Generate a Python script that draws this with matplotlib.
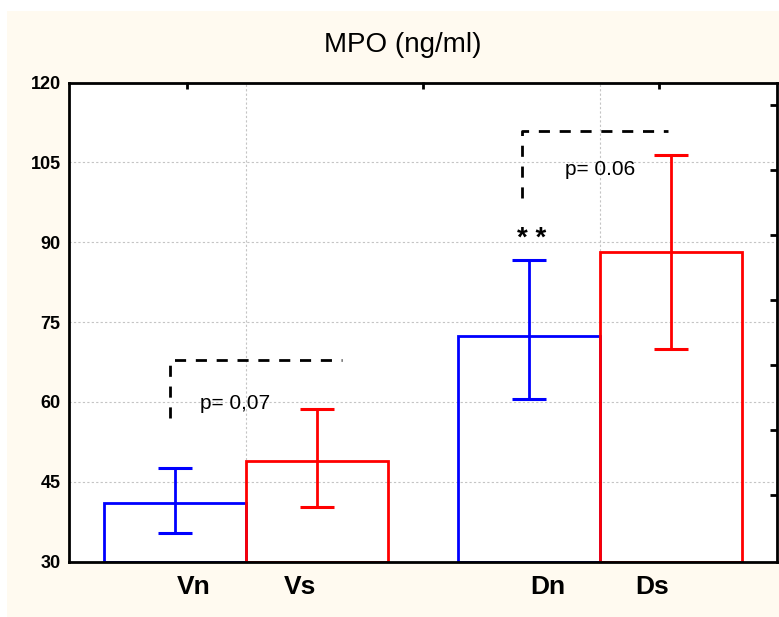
import matplotlib.pyplot as plt
from matplotlib.patches import Rectangle

plt.rcParams['font.family'] = ['Liberation Sans', 'DejaVu Sans']

# data
groups = ["Vn", "Vs", "Dn", "Ds"]
means = [41.1, 48.9, 72.4, 88.2]
err_low = [35.4, 40.3, 60.5, 70.0]
err_high = [47.6, 58.6, 86.6, 106.3]
colors = ["blue", "red", "blue", "red"]
xpos = [0.75, 1.75, 3.25, 4.25]
label_x = [0.88, 1.63, 3.38, 4.12]
p_texts = ["p= 0,07", "p= 0.06"]

fig = plt.figure(figsize=(7.79, 6.17), dpi=100, facecolor="white")
fig.patches.append(Rectangle((7 / 779, 0), 1, (617 - 11) / 617,
                             transform=fig.transFigure, facecolor="#fffaf0",
                             edgecolor="none", zorder=-10))

ax = fig.add_axes([69 / 779, (617 - 561.7) / 617, (777 - 69) / 779, (561.7 - 82.5) / 617])
ax.set_facecolor("white")

base = 30
for i in range(len(groups)):
    ax.bar(xpos[i], means[i] - base, bottom=base, width=1.0, facecolor="none",
           edgecolor=colors[i], linewidth=2, zorder=3)
    ax.errorbar(xpos[i], means[i],
                yerr=[[means[i] - err_low[i]], [err_high[i] - means[i]]],
                color=colors[i], elinewidth=2, capsize=12.5, capthick=2.2, zorder=4)

ax.set_xlim(0, 5)
ax.set_ylim(30, 120)
ax.set_yticks([30, 45, 60, 75, 90, 105, 120])
ax.set_yticklabels(["30", "45", "60", "75", "90", "105", "120"], fontsize=13, fontweight="bold")
ax.tick_params(axis="y", length=0, pad=6)
ax.set_xticks([1.25, 3.75])
ax.set_xticklabels([])
ax.tick_params(axis="x", length=0)
ax.grid(True, color="#c4c4c4", linestyle=(0, (2, 2)), linewidth=0.8, zorder=0)
ax.set_axisbelow(True)
for s in ax.spines.values():
    s.set_linewidth(2)
    s.set_zorder(5)

for i in range(len(groups)):
    ax.text(label_x[i], 25.3, groups[i], fontsize=19, fontweight="bold",
            ha="center", va="center", clip_on=False)

# top and right inner ticks
top = ax.secondary_xaxis("top")
top.set_ticks([5 / 6, 2.5, 25 / 6])
top.set_xticklabels([])
top.tick_params(direction="in", length=5, width=2)
top.spines["top"].set_visible(False)
right = ax.secondary_yaxis("right")
right.set_ticks([42.6, 54.8, 67.0, 79.2, 91.4, 103.6, 115.8])
right.set_yticklabels([])
right.tick_params(direction="in", length=5, width=2)
right.spines["right"].set_visible(False)

# significance brackets
dash = (0, (4, 3.5))
ax.plot([0.713, 0.713, 1.93], [57.0, 67.9, 67.9], color="black", linewidth=2,
        linestyle=dash, zorder=6)
ax.plot([3.20, 3.20, 4.23], [98.3, 110.8, 110.8], color="black", linewidth=2,
        linestyle=dash, zorder=6)
ax.text(0.925, 59.8, p_texts[0], fontsize=15, ha="left", va="center")
ax.text(3.50, 103.7, p_texts[1], fontsize=15, ha="left", va="center")
ax.text(3.27, 90.6, "* *", fontsize=20, fontweight="bold", ha="center", va="center")

fig.text(403 / 779, 1 - 45 / 617, "MPO (ng/ml)", fontsize=20, ha="center", va="center")

fig.savefig("out.png", dpi=100, facecolor=fig.get_facecolor())
